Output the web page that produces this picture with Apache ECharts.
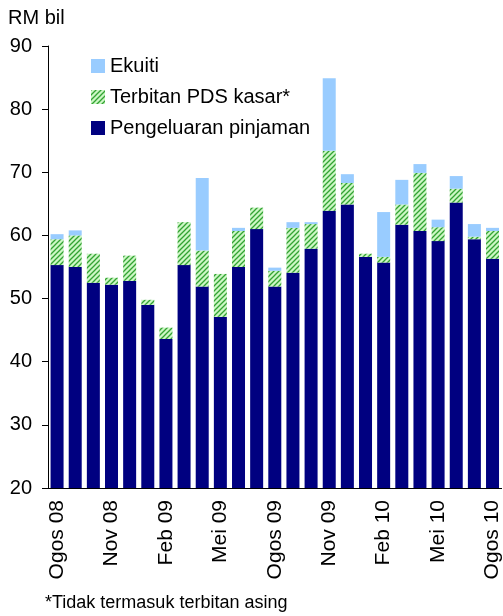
<!DOCTYPE html>
<html>
<head>
<meta charset="utf-8">
<script src="https://cdn.jsdelivr.net/npm/echarts@6/dist/echarts.min.js"></script>
<style>
  html, body { margin: 0; padding: 0; background: #fff; }
  #main { width: 503px; height: 616px; }
</style>
</head>
<body>
<div id="main"></div>
<script>
// Ogos 08 - Ogos 10, bulanan
var months = ['Ogos 08','Sep 08','Okt 08','Nov 08','Dis 08','Jan 09','Feb 09','Mac 09','Apr 09','Mei 09','Jun 09','Jul 09',
	'Ogos 09','Sep 09','Okt 09','Nov 09','Dis 09','Jan 10','Feb 10','Mac 10','Apr 10','Mei 10','Jun 10','Jul 10','Ogos 10'];

// RM bil
var pinjaman = [55.3, 55.0, 52.5, 52.2, 52.8, 49.0, 43.6, 55.3, 51.9, 47.1, 55.0, 61.0,
	51.9, 54.1, 57.9, 63.9, 64.9, 56.6, 55.7, 61.7, 60.7, 59.1, 65.2, 59.4, 56.3];
var pds = [4.1, 5.0, 4.6, 1.1, 4.0, 0.8, 1.8, 6.8, 5.7, 6.8, 5.7, 3.4,
	2.5, 7.1, 3.9, 9.5, 3.4, 0.5, 0.9, 3.2, 9.2, 2.2, 2.2, 0.4, 4.4];
var ekuiti = [0.8, 0.8, 0, 0, 0, 0, 0, 0, 11.5, 0, 0.5, 0,
	0.5, 0.9, 0.3, 11.5, 1.4, 0, 7.1, 3.9, 1.4, 1.2, 2.0, 2.0, 0.5];

var names = ['Ekuiti', 'Terbitan PDS kasar*', 'Pengeluaran pinjaman'];

var FONT = 'Liberation Sans, Arial, sans-serif';

// corak jalur hijau untuk PDS
function hatch() {
	var c = document.createElement('canvas');
	c.width = 5; c.height = 5;
	var g = c.getContext('2d');
	g.fillStyle = '#ccf7c4';
	g.fillRect(0, 0, 5, 5);
	g.strokeStyle = '#33a333';
	g.lineWidth = 1.3;
	g.beginPath();
	g.moveTo(0, 5); g.lineTo(5, 0);
	g.moveTo(-1, 1); g.lineTo(1, -1);
	g.moveTo(4, 6); g.lineTo(6, 4);
	g.stroke();
	return c;
}

var chart = echarts.init(document.getElementById('main'));

var option = {
	animation: false,
	backgroundColor: '#fff',
	textStyle: { fontFamily: FONT },
	grid: { left: 48, right: 0, top: 46, bottom: 128 },
	legend: {
		orient: 'vertical',
		left: 86,
		top: 51,
		icon: 'rect',
		itemWidth: 14,
		itemHeight: 14,
		itemGap: 11,
		data: names,
		textStyle: { fontSize: 20, color: '#000', fontFamily: FONT }
	},
	graphic: [
		{ type: 'text', left: 8, top: 8, style: { text: 'RM bil', fill: '#000', font: '20px ' + FONT } },
		{ type: 'text', left: 45, top: 594, style: { text: '*Tidak termasuk terbitan asing', fill: '#000', font: '18px ' + FONT } }
	],
	xAxis: {
		type: 'category',
		data: months,
		axisLine: { lineStyle: { color: '#000', width: 1 } },
		axisTick: { interval: 2, length: 6, lineStyle: { color: '#000' } },
		axisLabel: {
			interval: 2,
			rotate: 90,
			margin: 12,
			fontSize: 21,
			color: '#000',
			fontFamily: FONT
		}
	},
	yAxis: {
		type: 'value',
		min: 20,
		max: 90,
		interval: 10,
		splitLine: { show: false },
		axisLine: { show: true, lineStyle: { color: '#000', width: 1 } },
		axisTick: { show: true, length: 6, lineStyle: { color: '#000' } },
		axisLabel: { margin: 16, fontSize: 20, color: '#000', fontFamily: FONT }
	},
	series: [
		{
			name: names[2],
			type: 'bar',
			stack: 'a',
			barWidth: 13,
			itemStyle: { color: '#000080' },
			data: pinjaman
		},
		{
			name: names[1],
			type: 'bar',
			stack: 'a',
			barWidth: 13,
			itemStyle: { color: { image: hatch(), repeat: 'repeat' } },
			data: pds
		},
		{
			name: names[0],
			type: 'bar',
			stack: 'a',
			barWidth: 13,
			itemStyle: { color: '#99ccff' },
			data: ekuiti
		}
	]
};

chart.setOption(option);
</script>
</body>
</html>
